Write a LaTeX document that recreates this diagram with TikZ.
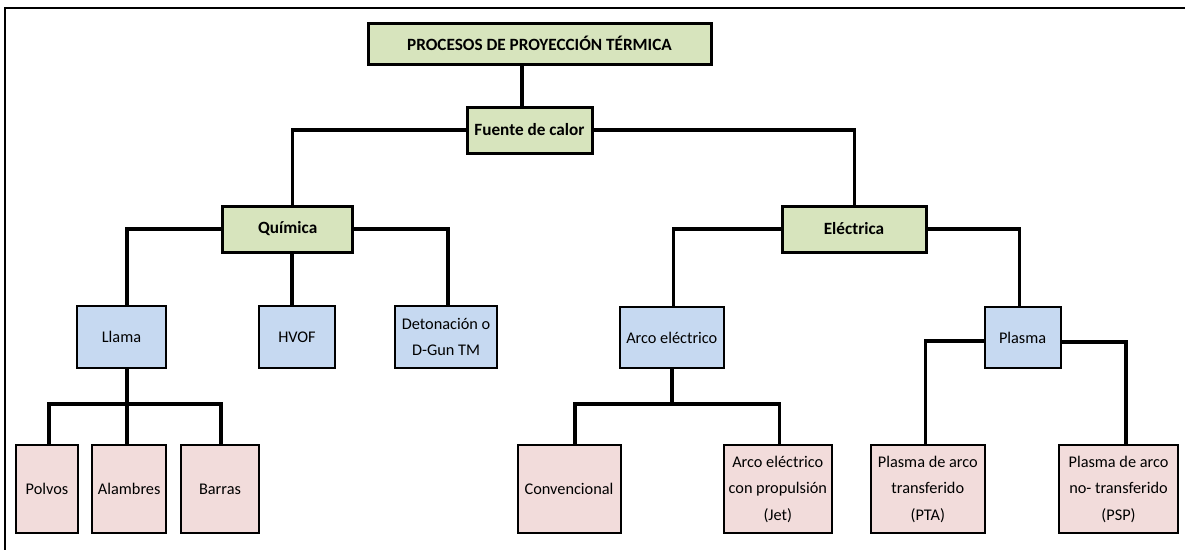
\documentclass[tikz,border=0pt]{standalone}
\usepackage{fontspec}
\setmainfont{Carlito}
\definecolor{gbox}{HTML}{D7E4BD}
\definecolor{bbox}{HTML}{C6D9F1}
\definecolor{pbox}{HTML}{F2DCDB}
\tikzset{
  basebox/.style={draw=black, inner sep=0pt, align=center, font=\fontsize{16.3}{26.5}\selectfont},
  gnode/.style={basebox, fill=gbox, line width=3pt, font=\fontsize{17.2}{26}\selectfont\bfseries},
  bnode/.style={basebox, fill=bbox, line width=2pt},
  pnode/.style={basebox, fill=pbox, line width=2pt},
  conn/.style={line width=3.2pt, line cap=rect},
}
\begin{document}
\begin{tikzpicture}[x=1pt,y=-1pt]
\useasboundingbox (0,0) rectangle (1185,549);
% frame
\draw[line width=2pt] (1186,8) -- (5,8) -- (5,550);
% nodes
\node[gnode, minimum width=343, minimum height=41] (title) at (539.5,43.5) {PROCESOS DE PROYECCIÓN TÉRMICA};
\node[gnode, minimum width=125, minimum height=46] (fuente) at (529.5,130) {Fuente de calor};
\node[gnode, minimum width=129.5, minimum height=46] (quimica) at (287.7,229) {Química};
\node[gnode, minimum width=144, minimum height=46] (electrica) at (854,229) {Eléctrica};
\node[bnode, minimum width=89, minimum height=62] (llama) at (121.5,337) {Llama};
\node[bnode, minimum width=76, minimum height=62] (hvof) at (297,337) {HVOF};
\node[bnode, minimum width=102, minimum height=62] (deton) at (446,337) {Detonación o\\D-Gun TM};
\node[bnode, minimum width=103.6, minimum height=61] (arco) at (671.8,337.5) {Arco eléctrico};
\node[bnode, minimum width=76, minimum height=61] (plasma) at (1022.6,337.5) {Plasma};
\node[pnode, minimum width=62, minimum height=88] (polvos) at (47,489) {Polvos};
\node[pnode, minimum width=74.5, minimum height=88] (alambres) at (129.2,489) {Alambres};
\node[pnode, minimum width=78, minimum height=88] (barras) at (220,489) {Barras};
\node[pnode, minimum width=103, minimum height=88] (conv) at (569,489) {Convencional};
\node[pnode, minimum width=108.4, minimum height=88] (jet) at (777.8,489) {Arco eléctrico\\con propulsión\\(Jet)};
\node[pnode, minimum width=113.7, minimum height=88] (pta) at (927.8,489) {Plasma de arco\\transferido\\(PTA)};
\node[pnode, minimum width=119, minimum height=88] (psp) at (1118.5,489) {Plasma de arco\\no- transferido\\(PSP)};
% bus points
\coordinate (lbus) at (127,404);
\coordinate (abus) at (672,404);
% connectors
\draw[conn] ([xshift=-17.5pt]title.south) -- ([xshift=-7.5pt]fuente.north);
\draw[conn] (fuente.west) -| ([xshift=5pt]quimica.north);
\draw[conn] (fuente.east) -| ([xshift=0.5pt]electrica.north);
\draw[conn] (quimica.west) -| ([xshift=5.5pt]llama.north);
\draw[conn] ([xshift=-5pt]hvof.north |- quimica.south) -- ([xshift=-5pt]hvof.north);
\draw[conn] (quimica.east) -| ([xshift=2pt]deton.north);
\draw[conn] (electrica.west) -| ([xshift=2pt]arco.north);
\draw[conn] (electrica.east) -| ([xshift=-3pt]plasma.north);
\draw[conn] (llama.south -| lbus) -- (lbus);
\draw[conn] ([xshift=2pt]polvos.north) |- (lbus) -| ([xshift=1pt]barras.north);
\draw[conn] (lbus) -- (alambres.north -| lbus);
\draw[conn] (arco.south -| abus) -- (abus);
\draw[conn] ([xshift=6pt]conv.north) |- (abus) -| ([xshift=2pt]jet.north);
\draw[conn] ([yshift=-3.5pt]plasma.west) -| ([xshift=-2pt]pta.north);
\draw[conn] ([yshift=-4.5pt]plasma.east) -| ([xshift=7.5pt]psp.north);
\end{tikzpicture}
\end{document}
